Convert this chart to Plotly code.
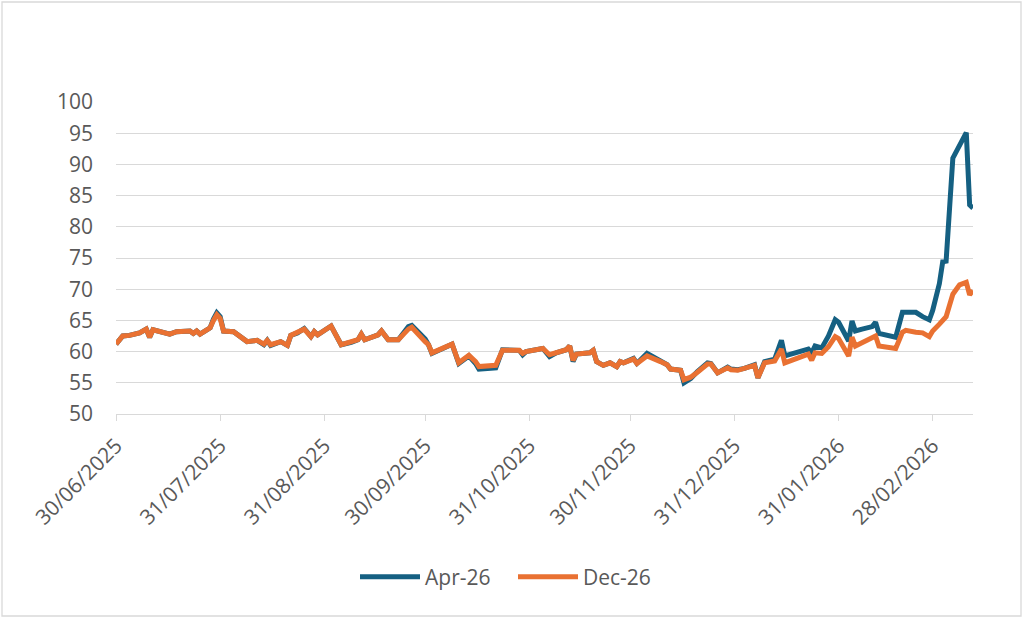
import plotly.graph_objects as go

dates = [
    "2025-06-30", "2025-07-02", "2025-07-04", "2025-07-07", "2025-07-09", "2025-07-10", "2025-07-11",
    "2025-07-14", "2025-07-16", "2025-07-18", "2025-07-22", "2025-07-23", "2025-07-24", "2025-07-25",
    "2025-07-28", "2025-07-29", "2025-07-30", "2025-07-31", "2025-08-01", "2025-08-04", "2025-08-07",
    "2025-08-08", "2025-08-11", "2025-08-13", "2025-08-14", "2025-08-15", "2025-08-18", "2025-08-20",
    "2025-08-21", "2025-08-23", "2025-08-25", "2025-08-27", "2025-08-28", "2025-08-29", "2025-09-02",
    "2025-09-05", "2025-09-08", "2025-09-10", "2025-09-11", "2025-09-12", "2025-09-16", "2025-09-17",
    "2025-09-19", "2025-09-22", "2025-09-25", "2025-09-26", "2025-09-30", "2025-10-01", "2025-10-02",
    "2025-10-05", "2025-10-08", "2025-10-10", "2025-10-13", "2025-10-15", "2025-10-16", "2025-10-21",
    "2025-10-23", "2025-10-28", "2025-10-29", "2025-10-30", "2025-11-04", "2025-11-06", "2025-11-08",
    "2025-11-11", "2025-11-12", "2025-11-13", "2025-11-14", "2025-11-18", "2025-11-19", "2025-11-20",
    "2025-11-22", "2025-11-24", "2025-11-26", "2025-11-27", "2025-11-28", "2025-12-01", "2025-12-02",
    "2025-12-05", "2025-12-09", "2025-12-11", "2025-12-12", "2025-12-15", "2025-12-16", "2025-12-18",
    "2025-12-20", "2025-12-23", "2025-12-24", "2025-12-26", "2025-12-29", "2025-12-30", "2026-01-01",
    "2026-01-03", "2026-01-06", "2026-01-07", "2026-01-09", "2026-01-12", "2026-01-14", "2026-01-15",
    "2026-01-22", "2026-01-23", "2026-01-24", "2026-01-26", "2026-01-28", "2026-01-30", "2026-01-31",
    "2026-02-03", "2026-02-04", "2026-02-05", "2026-02-07", "2026-02-10", "2026-02-11", "2026-02-12",
    "2026-02-17", "2026-02-19", "2026-02-20", "2026-02-23", "2026-02-25", "2026-02-27", "2026-02-28",
    "2026-03-02", "2026-03-03", "2026-03-04", "2026-03-06", "2026-03-08", "2026-03-10", "2026-03-11",
    "2026-03-12",
]

dec26 = [
    61.2, 62.5, 62.6, 63.0, 63.6, 62.3, 63.5,
    63.2, 62.8, 63.2, 63.3, 62.9, 63.3, 62.8,
    63.8, 65.0, 65.9, 65.3, 63.3, 63.2, 62.0,
    61.6, 61.8, 61.2, 61.8, 61.1, 61.6, 61.0,
    62.6, 63.0, 63.6, 62.4, 63.2, 62.7, 64.1,
    61.1, 61.5, 61.9, 62.8, 61.9, 62.7, 63.3,
    61.9, 61.9, 63.6, 63.9, 61.6, 61.1, 59.8,
    60.5, 61.2, 58.2, 59.4, 58.4, 57.6, 57.8,
    60.2, 60.2, 59.7, 60.0, 60.5, 59.5, 59.8,
    60.3, 60.9, 58.6, 59.6, 59.8, 60.2, 58.4,
    57.8, 58.2, 57.6, 58.4, 58.2, 58.8, 58.1,
    59.3, 58.4, 57.9, 57.2, 57.0, 55.5, 55.9,
    56.7, 58.0, 58.0, 56.6, 57.4, 57.1, 57.0,
    57.3, 57.8, 55.8, 58.2, 58.5, 60.4, 58.2,
    59.6, 58.6, 59.8, 59.7, 60.8, 62.4, 62.1,
    59.3, 62.3, 60.9, 61.5, 62.2, 62.5, 60.9,
    60.5, 63.1, 63.4, 63.1, 63.0, 62.4, 63.3,
    64.4, 64.9, 65.6, 69.2, 70.7, 71.1, 69.1,
    69.8,
]

apr26 = [
    61.2, 62.5, 62.6, 63.0, 63.6, 62.3, 63.5,
    63.2, 62.8, 63.2, 63.3, 62.9, 63.3, 62.8,
    63.8, 65.2, 66.2, 65.6, 63.3, 63.2, 62.0,
    61.6, 61.8, 61.1, 61.8, 61.0, 61.6, 61.0,
    62.6, 63.0, 63.7, 62.4, 63.2, 62.7, 64.1,
    61.1, 61.5, 61.9, 62.8, 61.9, 62.7, 63.3,
    61.9, 61.9, 64.0, 64.2, 62.0, 61.1, 59.7,
    60.5, 61.2, 58.1, 59.3, 58.1, 57.2, 57.4,
    60.3, 60.2, 59.5, 60.0, 60.5, 59.2, 59.8,
    60.3, 60.9, 58.4, 59.6, 59.8, 60.2, 58.4,
    57.8, 58.2, 57.6, 58.4, 58.2, 58.9, 58.1,
    59.7, 58.4, 57.9, 57.2, 57.0, 55.0, 55.7,
    56.8, 58.2, 58.1, 56.6, 57.5, 57.2, 57.1,
    57.3, 57.9, 55.8, 58.4, 58.8, 61.8, 59.3,
    60.4, 59.8, 60.9, 60.6, 62.5, 65.1, 64.7,
    61.7, 64.9, 63.3, 63.6, 64.0, 64.7, 62.9,
    62.3, 66.3, 66.3, 66.3, 65.6, 65.1, 66.6,
    70.9, 74.4, 74.5, 91.0, 93.2, 95.1, 83.5,
    83.0,
]

series_names = ["Apr-26", "Dec-26"]
tick_dates = ["2025-06-30", "2025-07-31", "2025-08-31", "2025-09-30", "2025-10-31",
              "2025-11-30", "2025-12-31", "2026-01-31", "2026-02-28"]
tick_labels = ["30/06/2025", "31/07/2025", "31/08/2025", "30/09/2025", "31/10/2025",
               "30/11/2025", "31/12/2025", "31/01/2026", "28/02/2026"]
y_ticks = [50, 55, 60, 65, 70, 75, 80, 85, 90, 95, 100]

BLUE = "#156082"
ORANGE = "#E97132"
TEXT = "#595959"
GRID = "#D9D9D9"
FONT = "Open Sans, Liberation Sans, sans-serif"

fig = go.Figure()
fig.add_trace(go.Scatter(x=dates, y=apr26, name=series_names[0], mode="lines",
                         line=dict(color=BLUE, width=5, shape="linear")))
fig.add_trace(go.Scatter(x=dates, y=dec26, name=series_names[1], mode="lines",
                         line=dict(color=ORANGE, width=5, shape="linear")))

W, H = 1024, 619
L, R, T, B = 116, 51, 102, 205
pw, ph = W - L - R, H - T - B

fig.update_layout(
    width=W, height=H,
    margin=dict(l=L, r=R, t=T, b=B),
    paper_bgcolor="white", plot_bgcolor="white",
    font=dict(family=FONT, color=TEXT, size=21),
    showlegend=True,
    legend=dict(orientation="h", x=(513 - L) / pw, xanchor="center", y=(H - B - 577) / ph,
                yanchor="middle",
                font=dict(size=21, color=TEXT), itemwidth=60, traceorder="normal",
                entrywidth=83, entrywidthmode="pixels",
                bgcolor="rgba(0,0,0,0)"),
    xaxis=dict(
        type="date", range=[dates[0], dates[-1]],
        tickmode="array", tickvals=tick_dates, ticktext=tick_labels,
        tickangle=-45, tickfont=dict(size=21, color=TEXT),
        showgrid=False, showline=True, linecolor=GRID, linewidth=1.3,
        ticks="outside", ticklen=6, tickcolor=GRID, tickwidth=1.3, zeroline=False,
        ticklabelstandoff=4,
    ),
    yaxis=dict(
        range=[50, 100], tickmode="array", tickvals=y_ticks,
        tickfont=dict(size=21, color=TEXT),
        showgrid=True, gridcolor=GRID, gridwidth=1.3,
        showline=False, zeroline=False, ticks="", ticklabelstandoff=22,
    ),
    shapes=[dict(type="rect", xref="paper", yref="paper",
                 x0=(2 - L) / pw, x1=(W - 3 - L) / pw,
                 y0=-(H - 3 - T - ph) / ph, y1=(ph + T - 2) / ph,
                 line=dict(color=GRID, width=1.3), fillcolor="rgba(0,0,0,0)", layer="below")],
)

fig.write_html("out.html", config={"displayModeBar": False},
               post_script="document.body.style.margin='0';document.body.style.padding='0';")
